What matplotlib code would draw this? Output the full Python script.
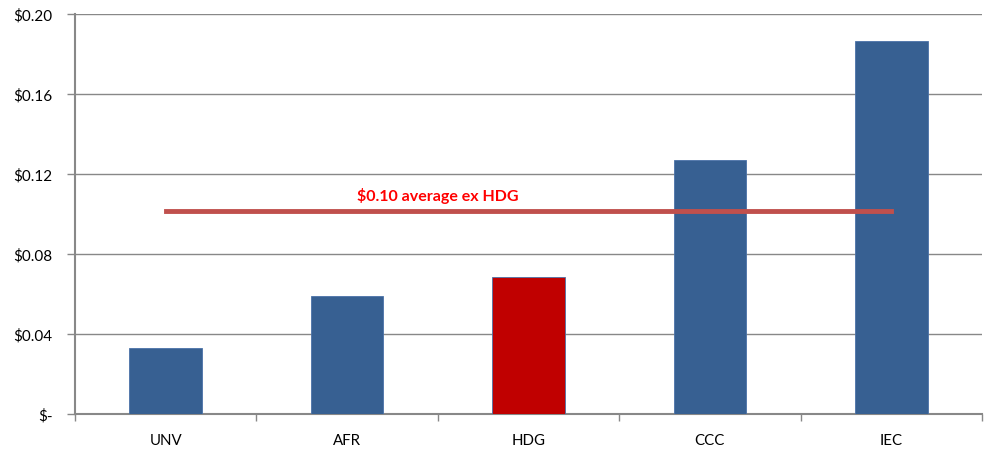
import matplotlib
matplotlib.use('Agg')
from matplotlib import pyplot as plt
import numpy as np

plt.rcParams['font.family'] = ['Lato', 'DejaVu Sans']

categories = ['UNV', 'AFR', 'HDG', 'CCC', 'IEC']
values = [0.033, 0.059, 0.0685, 0.127, 0.1865]
colors = ['#376092', '#376092', '#C00000', '#376092', '#376092']
avg_ex_hdg = 0.1015
avg_label = '$0.10 average ex HDG'
yticks = [0, 0.04, 0.08, 0.12, 0.16, 0.20]
ytick_labels = ['$-', '$0.04', '$0.08', '$0.12', '$0.16', '$0.20']

fig = plt.figure(figsize=(9.89, 4.56), dpi=100)
ax = fig.add_axes([75/989, 41/456, 907/989, 400/456])

x = np.arange(len(categories))
ax.bar(x, values, width=0.4, color=colors, edgecolor='#4a72a8', linewidth=0.6, zorder=3)

# average line from first to last category
ax.plot([x[0], x[-1]], [avg_ex_hdg, avg_ex_hdg], color='#C0504D', linewidth=3.5, zorder=4)
ax.text(1.5, avg_ex_hdg + 0.0078, avg_label, color='#FF0000', fontweight='bold',
        fontsize=11.5, ha='center', va='center', zorder=5)

ax.set_xlim(-0.5, len(categories) - 0.5)
ax.set_ylim(0, 0.20)
ax.set_yticks(yticks)
ax.set_yticklabels(ytick_labels, fontsize=11)
ax.yaxis.grid(True, color='#888888', linewidth=1, zorder=0)

ax.set_xticks(x)
ax.set_xticklabels(categories, fontsize=10.8)
ax.tick_params(axis='x', length=0, pad=14)
ax.set_xticks(np.arange(-0.5, len(categories) + 0.5, 1), minor=True)
ax.tick_params(axis='x', which='minor', length=5, color='#888888', width=1)
ax.tick_params(axis='y', length=6, color='#888888', width=1, pad=10)

for side in ['top', 'right']:
    ax.spines[side].set_visible(False)
for side in ['left', 'bottom']:
    ax.spines[side].set_color('#888888')
    ax.spines[side].set_linewidth(1.5)

plt.savefig('out.png', dpi=100)
